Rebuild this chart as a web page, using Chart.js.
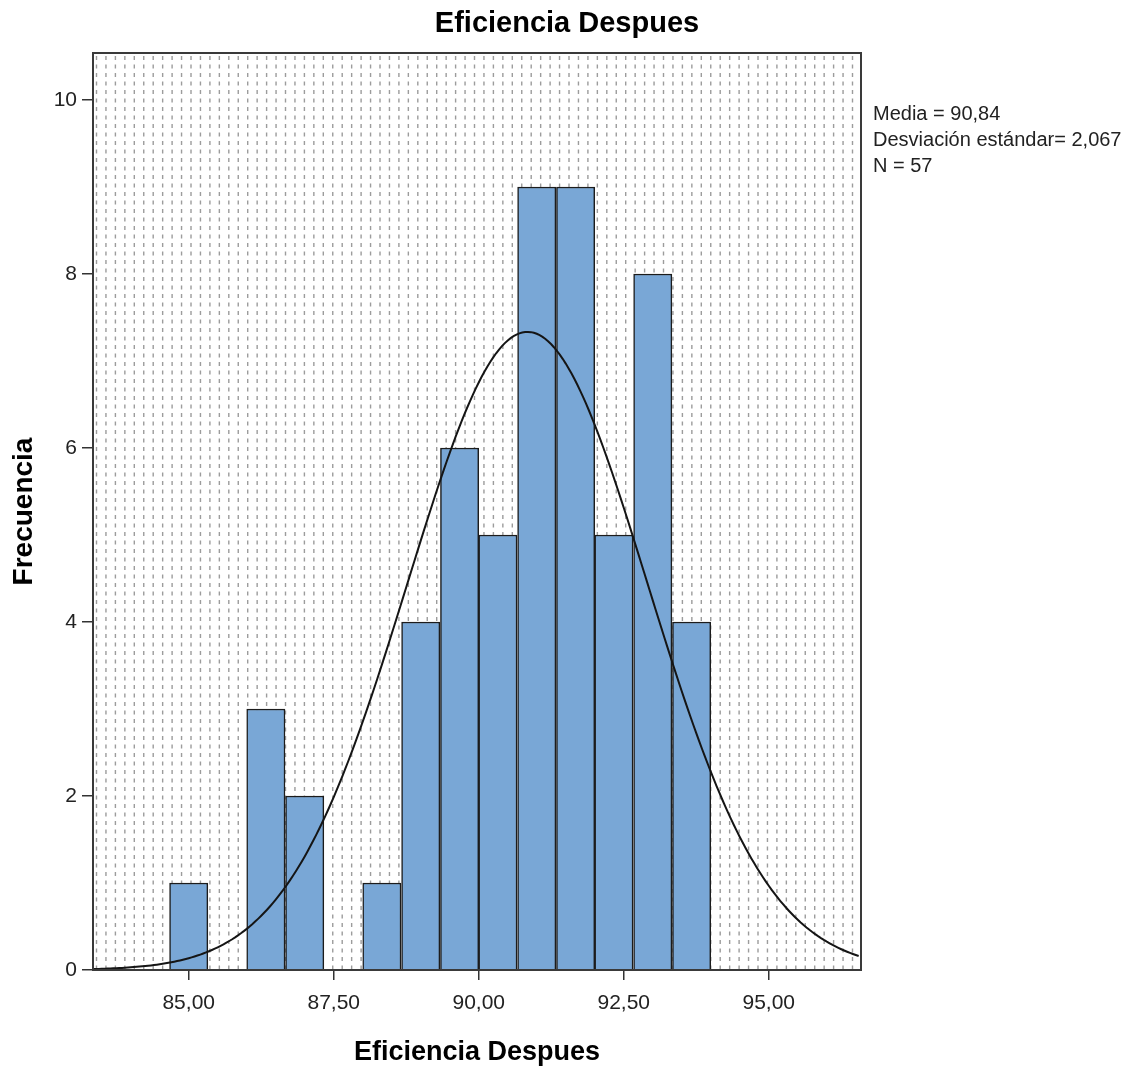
<!DOCTYPE html>
<html>
<head>
<meta charset="utf-8">
<script src="https://cdn.jsdelivr.net/npm/chart.js@4.4.1/dist/chart.umd.min.js"></script>
<style>
  body { margin: 0; background: #fff; }
  canvas { display: block; }
</style>
</head>
<body>
<canvas id="histChart" width="1134" height="1074"></canvas>
<script>
// histogram bins (centre of each bin) and their frequencies
var binCenters = [85.00, 85.67, 86.33, 87.00, 87.67, 88.33, 89.00, 89.67, 90.33, 91.00, 91.67, 92.33, 93.00, 93.67];
var frequencies = [1, 0, 3, 2, 0, 1, 4, 6, 5, 9, 9, 5, 8, 4];
var binWidth = 0.6667;

var xTicks = [85, 87.5, 90, 92.5, 95];
var xTickLabels = ['85,00', '87,50', '90,00', '92,50', '95,00'];
var yTicks = [0, 2, 4, 6, 8, 10];
var yTickLabels = ['0', '2', '4', '6', '8', '10'];

// summary statistics
var media = 90.84;
var desviacion = 2.067;
var total = 57;

function coma(v, d) {
    return v.toFixed(d).replace('.', ',');
}

var statLines = [
    'Media = ' + coma(media, 2),
    'Desviación estándar= ' + coma(desviacion, 3),
    'N = ' + total
];

var xMin = 83.35, xMax = 96.59;

// normal curve fitted with the mean / sd above, scaled to counts per bin
var curve = [];
for (var x = xMin; x <= xMax + 1e-9; x += 0.05) {
    var z = (x - media) / desviacion;
    curve.push({x: x, y: total * binWidth / (desviacion * Math.sqrt(2 * Math.PI)) * Math.exp(-0.5 * z * z)});
}

var bars = binCenters.map(function(c, i){ return {x: c, y: frequencies[i]}; });

var backdrop = {
    id: 'backdrop',
    beforeDatasetsDraw: function(chart){
        var a = chart.chartArea, ctx = chart.ctx;
        ctx.save();
        ctx.strokeStyle = '#9c9c9c';
        ctx.lineWidth = 1.4;
        ctx.setLineDash([4, 4.5]);
        ctx.beginPath();
        for (var px = a.left + 3.5; px < a.right - 1; px += 9.45) {
            ctx.moveTo(px, a.top + 3);
            ctx.lineTo(px, a.bottom);
        }
        ctx.stroke();
        ctx.restore();
    },
    afterDraw: function(chart){
        var a = chart.chartArea, ctx = chart.ctx;
        ctx.save();
        ctx.strokeStyle = '#3a3a3a';
        ctx.lineWidth = 2;
        ctx.strokeRect(a.left, a.top, a.right - a.left, a.bottom - a.top);
        ctx.fillStyle = '#222';
        ctx.font = '20px "Liberation Sans", Arial, sans-serif';
        ctx.textAlign = 'left';
        ctx.textBaseline = 'alphabetic';
        statLines.forEach(function(t, i){
            ctx.fillText(t, a.right + 12, 120 + i * 25.8);
        });
        ctx.restore();
    }
};

Chart.defaults.font.family = '"Liberation Sans", Arial, sans-serif';
Chart.defaults.color = '#222';

var ctx = document.getElementById('histChart').getContext('2d');
var histChart = new Chart(ctx, {
    type: 'bar',
    data: {
        datasets: [{
            type: 'line',
            data: curve,
            borderColor: '#151515',
            borderWidth: 2,
            pointRadius: 0,
            tension: 0,
            order: 0
        }, {
            type: 'bar',
            data: bars,
            backgroundColor: '#79a7d6',
            borderColor: '#1c1c1c',
            borderWidth: 1.5,
            barPercentage: 1,
            categoryPercentage: 1,
            order: 1
        }]
    },
    options: {
        responsive: false,
        animation: false,
        layout: { padding: 0 },
        plugins: {
            legend: { display: false },
            tooltip: { enabled: false },
            title: {
                display: true,
                text: 'Eficiencia Despues',
                color: '#000',
                font: { size: 29, weight: 'bold' },
                padding: { top: 7, bottom: 11.2 }
            }
        },
        scales: {
            x: {
                type: 'linear',
                min: xMin,
                max: xMax,
                offset: false,
                afterFit: function(scale){ scale.height = 104; },
                afterBuildTicks: function(scale){
                    scale.ticks = xTicks.map(function(v){ return {value: v}; });
                },
                ticks: {
                    font: { size: 21 },
                    padding: 11,
                    maxRotation: 0,
                    callback: function(v){ return xTickLabels[xTicks.indexOf(v)]; }
                },
                grid: {
                    offset: false,
                    drawOnChartArea: false,
                    drawTicks: true,
                    tickLength: 10,
                    color: '#333',
                    lineWidth: 1.5
                },
                border: { display: true, color: '#222', width: 2 },
                title: {
                    display: true,
                    text: 'Eficiencia Despues',
                    color: '#000',
                    font: { size: 27, weight: 'bold' },
                    padding: { top: 0, bottom: 5 }
                }
            },
            y: {
                min: 0,
                max: 10.54,
                afterFit: function(scale){ scale.width = 93; },
                afterBuildTicks: function(scale){
                    scale.ticks = yTicks.map(function(v){ return {value: v}; });
                },
                ticks: {
                    font: { size: 21 },
                    padding: 5,
                    callback: function(v){ return yTickLabels[yTicks.indexOf(v)]; }
                },
                grid: {
                    drawOnChartArea: false,
                    drawTicks: true,
                    tickLength: 11,
                    color: '#333',
                    lineWidth: 1.5
                },
                border: { display: true, color: '#222', width: 2 },
                title: {
                    display: true,
                    text: 'Frecuencia',
                    color: '#000',
                    font: { size: 28, weight: 'bold' },
                    padding: { top: 7, bottom: 0 }
                }
            },
            // empty right-hand box that reserves room for the statistics text
            side: {
                axis: 'y',
                position: 'right',
                afterFit: function(scale){ scale.width = 273; },
                ticks: { display: false },
                grid: { display: false, drawTicks: false },
                border: { display: false }
            }
        }
    },
    plugins: [backdrop]
});
</script>
</body>
</html>
